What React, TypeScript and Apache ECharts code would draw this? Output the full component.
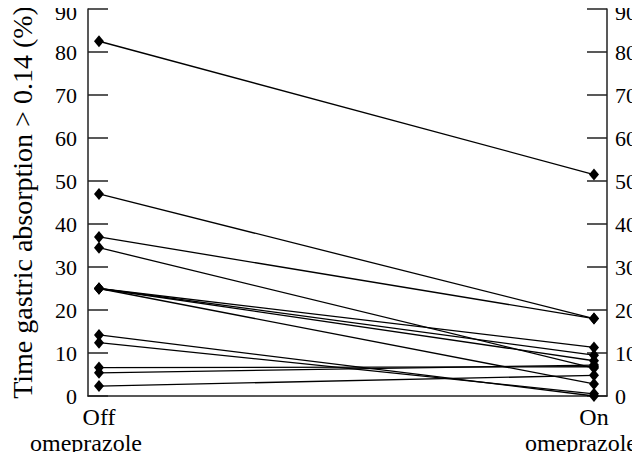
import React, { useEffect, useRef } from "react";
import * as echarts from "echarts";

const offValues = [82.5, 47, 37, 34.5, 25, 25, 25, 25, 14.2, 12.4, 6.6, 5.4, 2.3];
const onValues = [51.5, 18, 18, 6.5, 11.3, 9.5, 8.2, 2.8, 0, 0.5, 6.8, 7.2, 4.8];
const conditionPositions = [0, 1];
const conditionNames = ["Off", "On"];
const yTicks = { min: 0, max: 90, interval: 10 };
const yTitle = "Time gastric absorption > 0.14 (%)";

const FONT = "Liberation Serif";

export default function App() {
  const ref = useRef<HTMLDivElement>(null);
  useEffect(() => {
    if (!ref.current) return;
    const chart = echarts.init(ref.current, undefined, { renderer: "svg" });
    const series = offValues.map((v, i) => ({
      type: "line",
      data: [
        [conditionPositions[0], v],
        [conditionPositions[1], onValues[i]],
      ],
      symbol: "diamond",
      symbolSize: [10, 12],
      itemStyle: { color: "#000" },
      lineStyle: { color: "#000", width: 1.3 },
      emphasis: { disabled: true },
      silent: true,
    }));
    const tickRich = {
      n: { fontSize: 22, fontFamily: FONT, color: "#000" },
      p: { fontSize: 22, fontFamily: FONT, color: "#000", padding: [6, 0, 0, 0] },
    };
    const tickFormatter = (v: number) => (v === yTicks.max ? `{p|${v}}` : `{n|${v}}`);
    const yAxisCommon = {
      type: "value",
      min: yTicks.min,
      max: yTicks.max,
      interval: yTicks.interval,
      axisLine: { show: true, onZero: false, lineStyle: { color: "#222", width: 1.5 } },
      axisTick: { show: true, inside: true, length: 20, lineStyle: { color: "#222", width: 1.5 } },
      splitLine: { show: false },
    };
    chart.setOption({
      animation: false,
      textStyle: { fontFamily: FONT, color: "#000" },
      grid: { left: 88, right: 33, top: 9, bottom: 64, containLabel: false, outerBoundsMode: "none" },
      xAxis: {
        type: "value",
        min: -0.0222,
        max: 1.0263,
        axisLine: { show: true, onZero: false, lineStyle: { color: "#222", width: 1.5 } },
        axisTick: { show: false },
        splitLine: { show: false },
        axisLabel: {
          customValues: conditionPositions,
          margin: 7,
          fontFamily: FONT,
          formatter: (val: number) => {
            const idx = conditionPositions.indexOf(val);
            if (idx < 0) return "";
            return `{a|${conditionNames[idx]}}\n{b|omeprazole}`;
          },
          rich: {
            a: { fontSize: 24, fontFamily: FONT, color: "#000", lineHeight: 27, align: "center" },
            b: { fontSize: 24, fontFamily: FONT, color: "#000", lineHeight: 26, align: "center", padding: [0, 26, 0, 0] },
          },
        },
      },
      yAxis: [
        {
          ...yAxisCommon,
          position: "left",
          name: yTitle,
          nameLocation: "middle",
          nameRotate: 90,
          nameGap: 52,
          nameTextStyle: { fontSize: 28, fontFamily: FONT, color: "#000" },
          axisLabel: { fontSize: 22, fontFamily: FONT, color: "#000", margin: 11, formatter: tickFormatter, rich: tickRich },
        },
        {
          ...yAxisCommon,
          position: "right",
          axisLabel: { fontSize: 22, fontFamily: FONT, color: "#000", margin: 8, formatter: tickFormatter, rich: tickRich },
        },
      ],
      series,
    });
    return () => chart.dispose();
  }, []);
  return <div ref={ref} style={{ width: 640, height: 460, margin: -8 }} />;
}
